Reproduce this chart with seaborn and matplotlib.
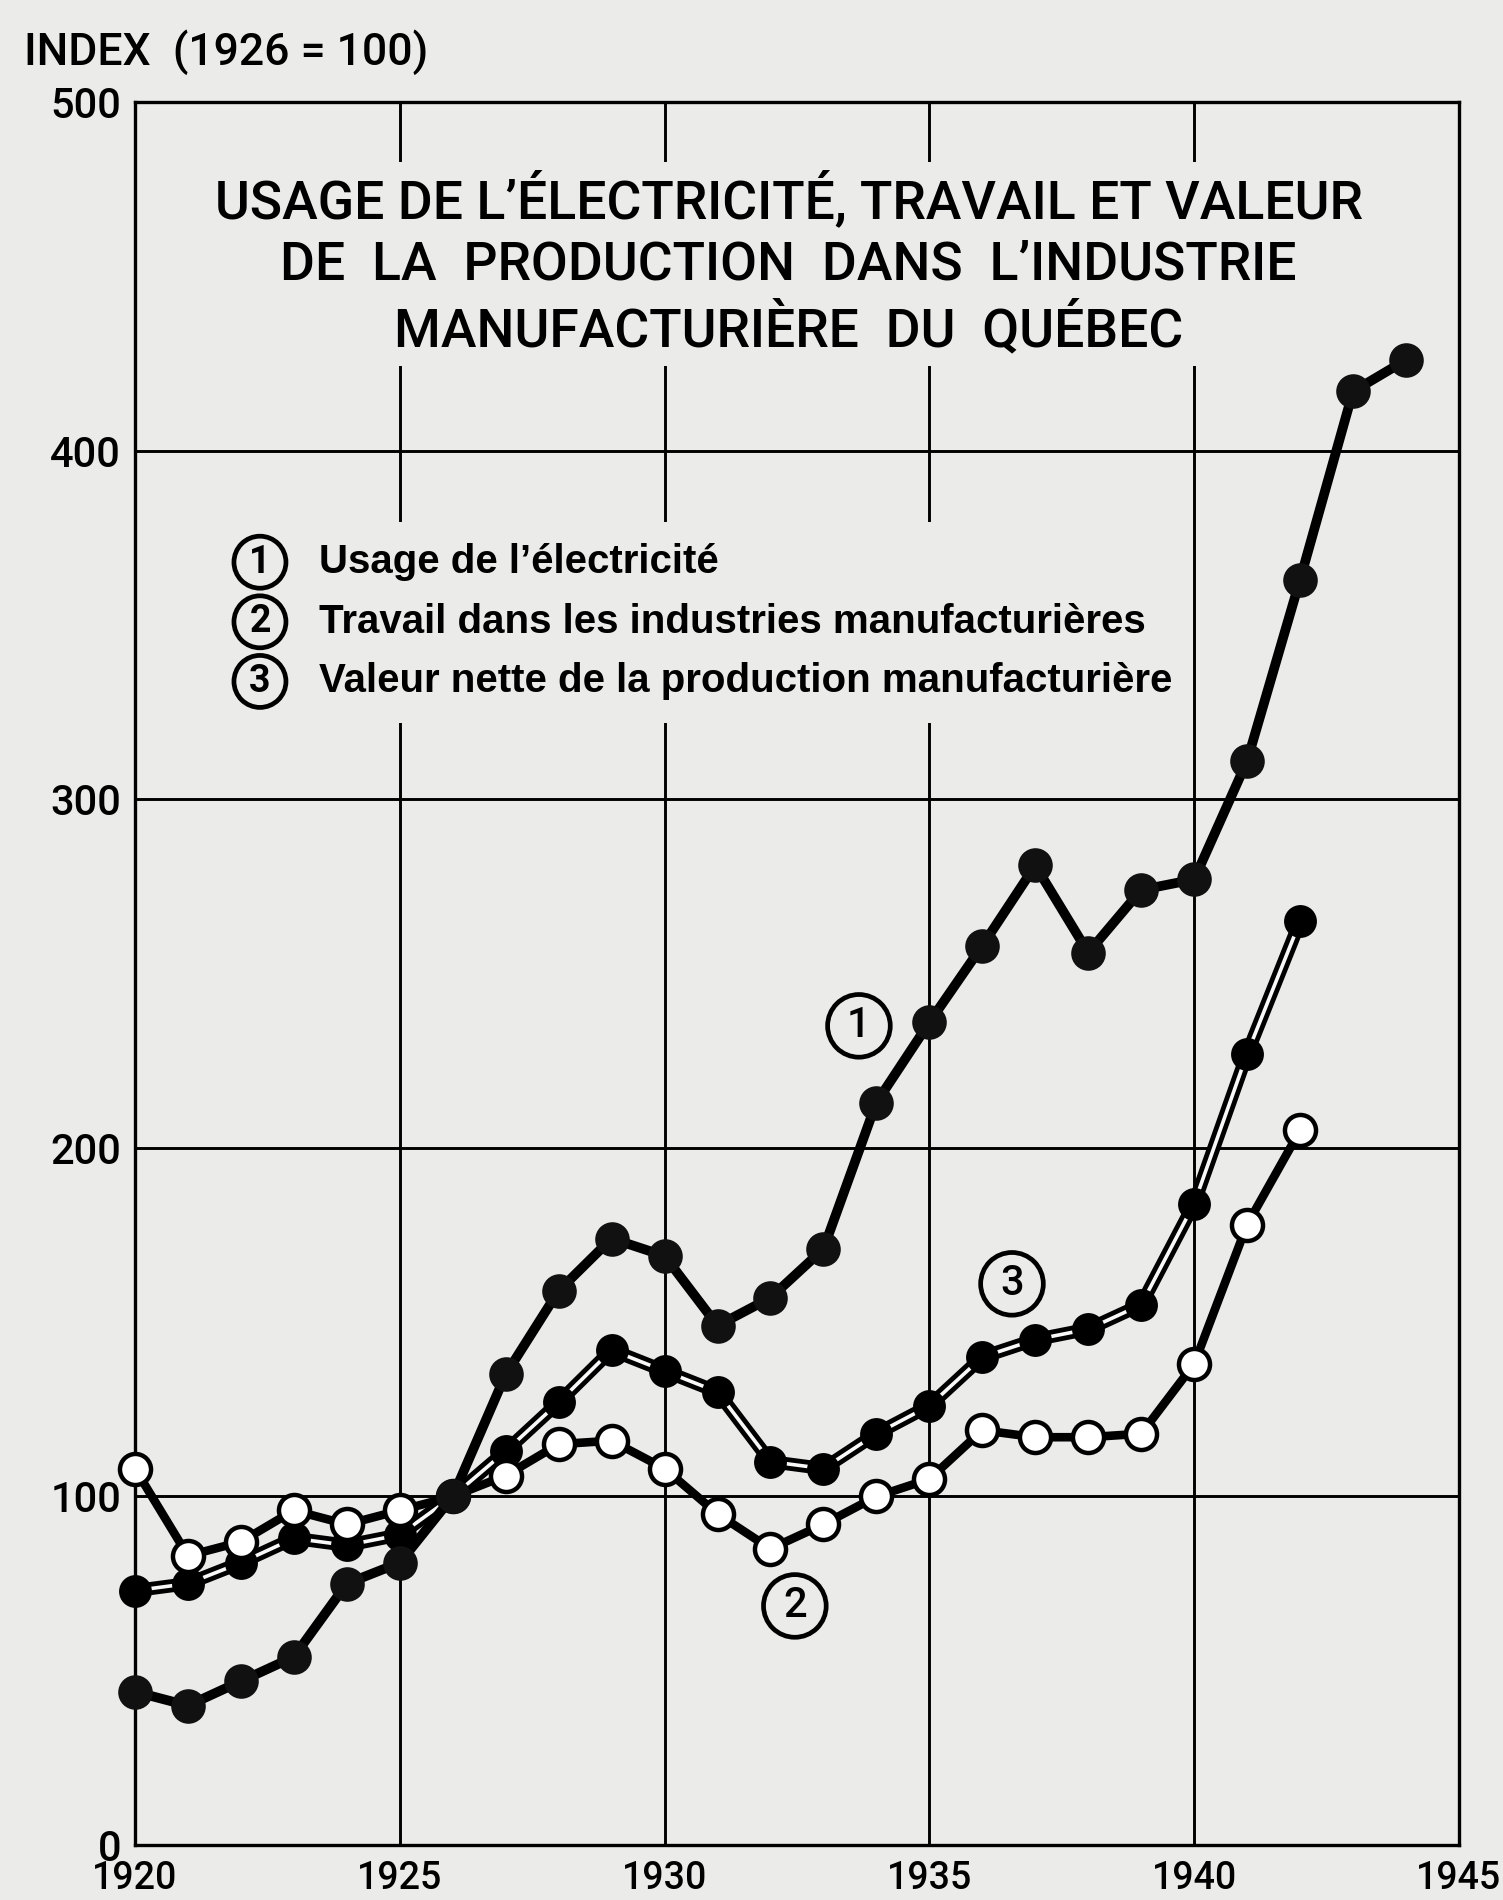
import pandas as pd
import seaborn as sns
import matplotlib.pyplot as plt
from matplotlib.patches import Rectangle

# Indices (1926 = 100)
annees_elec = list(range(1920, 1945))
usage_electricite = [44, 40, 47, 54, 75, 81, 100, 135, 159, 174, 169, 149, 157,
                     171, 213, 236, 258, 281, 256, 274, 277, 311, 363, 417, 426]

annees = list(range(1920, 1943))
travail = [108, 83, 87, 96, 92, 96, 100, 106, 115, 116, 108, 95, 85, 92, 100,
           105, 119, 117, 117, 118, 138, 178, 205]
valeur_nette = [73, 75, 81, 88, 86, 89, 100, 113, 127, 142, 136, 130, 110, 108,
                118, 126, 140, 145, 148, 155, 184, 227, 265]

ticks_x = [1920, 1925, 1930, 1935, 1940, 1945]
ticks_y = [0, 100, 200, 300, 400, 500]

titre = ("USAGE DE L’ÉLECTRICITÉ, TRAVAIL ET VALEUR\n"
         "DE  LA  PRODUCTION  DANS  L’INDUSTRIE\n"
         "MANUFACTURIÈRE  DU  QUÉBEC")
legende = ["Usage de l’électricité",
           "Travail dans les industries manufacturières",
           "Valeur nette de la production manufacturière"]
numeros = ["1", "2", "3"]

PAPIER = '#ebebea'
GEOM = ['Roboto', 'DejaVu Sans']

sns.set_style('white')
plt.rcParams['font.family'] = ['DejaVu Sans']
plt.rcParams['text.color'] = 'black'

fig = plt.figure(figsize=(15.03, 19.0), dpi=100, facecolor=PAPIER)
ax = fig.add_axes([0.0898, 0.0289, 0.8809, 0.9174])
ax.set_facecolor(PAPIER)

df_elec = pd.DataFrame({'annee': annees_elec, 'indice': usage_electricite})
df_trav = pd.DataFrame({'annee': annees, 'indice': travail})
df_val = pd.DataFrame({'annee': annees, 'indice': valeur_nette})

# 3 : valeur nette -> double trait, points noirs
sns.lineplot(data=df_val, x='annee', y='indice', color='black', lw=9.5, ax=ax, zorder=3)
sns.lineplot(data=df_val, x='annee', y='indice', color='#f8f8f8', lw=2.6, ax=ax, zorder=3.1)
sns.scatterplot(data=df_val, x='annee', y='indice', color='black', s=560,
                linewidth=0, ax=ax, zorder=4, clip_on=False)

# 2 : travail -> trait plein, cercles blancs
sns.lineplot(data=df_trav, x='annee', y='indice', color='black', lw=6.2, ax=ax, zorder=5)
sns.scatterplot(data=df_trav, x='annee', y='indice', color='white', s=500,
                edgecolor='black', linewidth=3.2, ax=ax, zorder=6, clip_on=False)

# 1 : électricité -> gros trait, points noirs
sns.lineplot(data=df_elec, x='annee', y='indice', color='black', lw=7, ax=ax, zorder=7)
sns.scatterplot(data=df_elec, x='annee', y='indice', color='#111111', s=620,
                linewidth=0, ax=ax, zorder=8, clip_on=False)

ax.set_xlim(1920, 1945)
ax.set_ylim(0, 500)
ax.set_xticks(ticks_x)
ax.set_yticks(ticks_y)
ax.set_xticklabels([str(t) for t in ticks_x], fontsize=27, family=GEOM,
                   fontweight='medium')
ax.set_yticklabels([str(t) for t in ticks_y], fontsize=30, family=GEOM,
                   fontweight='medium')
ax.tick_params(length=0, colors='black')
ax.tick_params(axis='x', pad=11)
ax.tick_params(axis='y', pad=10)
ax.set_xlabel('')
ax.set_ylabel('')
ax.grid(True, color='black', lw=2.1)
for s in ax.spines.values():
    s.set_visible(True)
    s.set_color('black')
    s.set_linewidth(2.4)

# titre dans le cadre, sur fond de papier (coupe la grille)
ax.text(1932.34, 453.5, titre, ha='center', va='center', fontsize=38.5,
        family=GEOM, fontweight='medium', linespacing=1.26, zorder=2,
        bbox=dict(facecolor=PAPIER, edgecolor='none', pad=6))

# légende
ax.add_patch(Rectangle((1921.8, 322), 18.0, 57.5, facecolor=PAPIER,
                       edgecolor='none', zorder=2))
for i, (num, lab) in enumerate(zip(numeros, legende)):
    y = 368 - i * 17.1
    ax.text(1922.36, y, num, ha='center', va='center', fontsize=27,
            fontweight='bold', family=GEOM, zorder=2.5,
            bbox=dict(boxstyle='circle,pad=0.2', facecolor=PAPIER,
                      edgecolor='black', lw=3.4))
    ax.text(1923.48, y, lab, ha='left', va='center', fontsize=29,
            fontweight='bold', family=['Liberation Sans', 'DejaVu Sans'], zorder=2.5)

# repères numérotés sur les courbes
for num, (xa, ya) in zip(numeros, [(1933.67, 235), (1932.46, 68.6), (1936.56, 161)]):
    ax.text(xa, ya, num, ha='center', va='center', fontsize=30, family=GEOM,
            fontweight='medium', zorder=9,
            bbox=dict(boxstyle='circle,pad=0.26', facecolor=PAPIER,
                      edgecolor='black', lw=3.4))

fig.text(0.016, 1 - 52 / 1900, 'INDEX  (1926 = 100)', ha='left', va='center',
         fontsize=32, family=GEOM, fontweight='medium')

fig.savefig('out.png', dpi=100, facecolor=PAPIER)
